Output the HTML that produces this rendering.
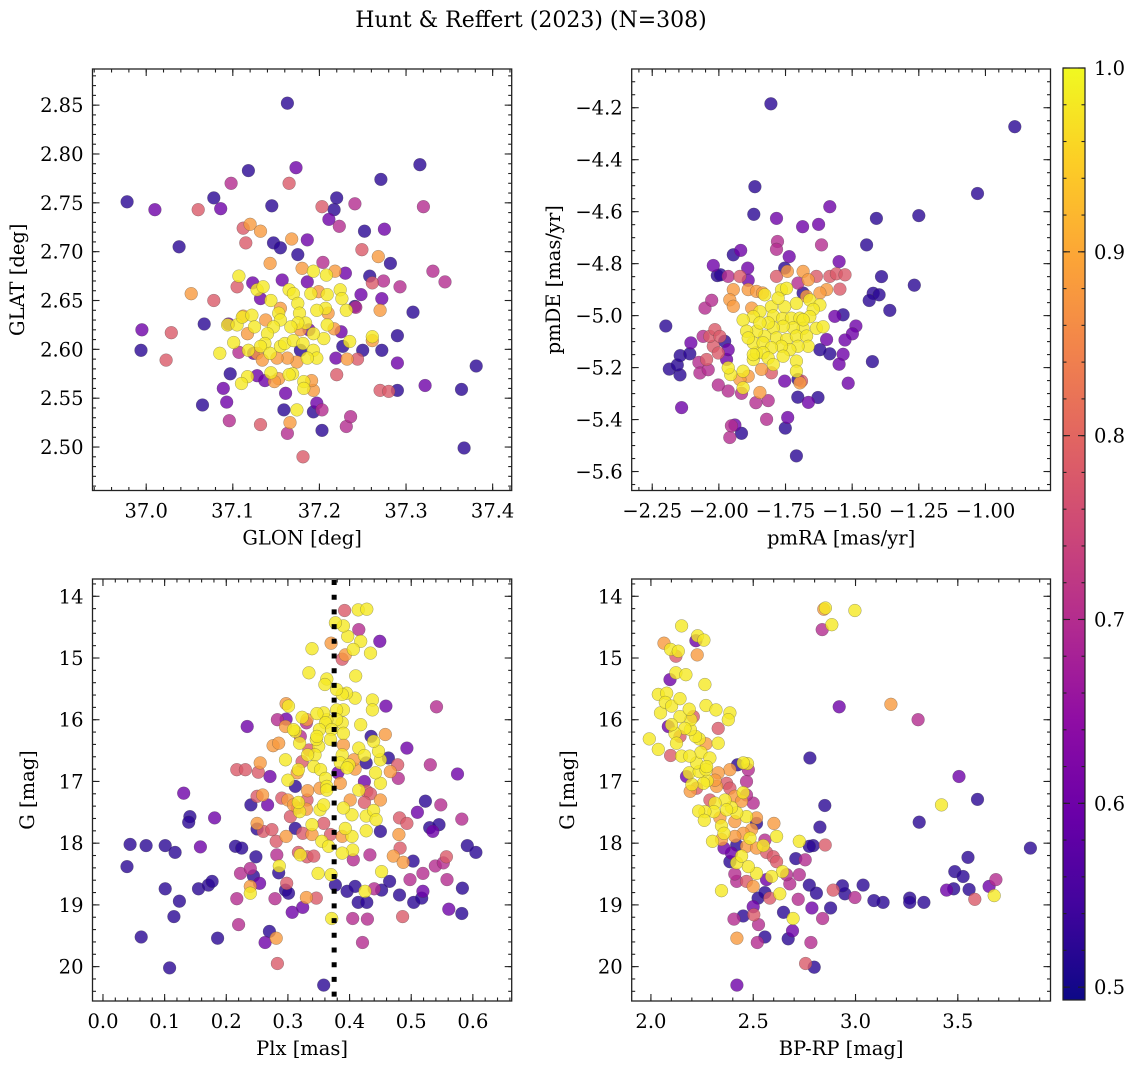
<!DOCTYPE html>
<html><head><meta charset="utf-8">
<style>
html,body{margin:0;padding:0;background:#fff;}
svg{display:block;font-family:"DejaVu Serif","Liberation Serif",serif;}
</style></head>
<body>
<svg id="fig" width="1136" height="1068" viewBox="0 0 1136 1068" xmlns="http://www.w3.org/2000/svg">
<rect width="1136" height="1068" fill="#fff"/>
<text x="531" y="27" font-size="22" text-anchor="middle">Hunt &amp; Reffert (2023) (N=308)</text>
<defs>
<linearGradient id="plasma" x1="0" y1="1" x2="0" y2="0">
<stop offset="0" stop-color="#0d0887"/><stop offset="0.1" stop-color="#41049d"/><stop offset="0.2" stop-color="#6a00a8"/><stop offset="0.3" stop-color="#8f0da4"/><stop offset="0.4" stop-color="#b12a90"/><stop offset="0.5" stop-color="#cc4778"/><stop offset="0.6" stop-color="#e16462"/><stop offset="0.7" stop-color="#f2844b"/><stop offset="0.8" stop-color="#fca636"/><stop offset="0.9" stop-color="#fcce25"/><stop offset="1" stop-color="#f0f921"/>
</linearGradient>
</defs>
</svg>
<script>
// ---------- Panel 1: GLON / GLAT ----------
const p1X=[37.163,36.978,37.010,37.060,37.078,37.086,37.098,37.118,37.173,37.165,37.145,37.203,37.217,37.220,37.211,37.223,37.241,37.271,37.316,37.320,37.252,37.275,37.038,37.112,37.115,37.120,37.132,37.147,37.155,37.186,37.168,37.175,37.249,37.268,37.282,37.331,37.345,37.143,37.204,37.218,37.230,37.258,37.261,37.274,37.293,37.052,37.078,37.107,37.105,37.123,37.157,37.186,37.180,37.193,37.208,37.248,37.272,37.270,37.308,37.242,36.995,36.994,37.029,37.023,37.067,37.290,37.272,37.290,37.381,37.322,37.270,37.280,37.290,37.364,37.367,37.097,37.089,37.093,37.065,37.096,37.132,37.161,37.159,37.163,37.166,37.174,37.181,37.203,37.193,37.197,37.203,37.231,37.236,37.220,37.232,37.244,37.250,37.227,37.219,37.225,37.261,37.261,37.235,37.241,37.193,37.191,37.182,37.182,37.169,37.165,37.153,37.148,37.144,37.128,37.137,37.117,37.110,37.085,37.101,37.107,37.118,37.095,37.094,37.105,37.111,37.122,37.112,37.125,37.128,37.135,37.132,37.144,37.153,37.155,37.165,37.170,37.175,37.177,37.190,37.199,37.209,37.207,37.197,37.210,37.224,37.226,37.231,37.209,37.217,37.205,37.193,37.184,37.175,37.167,37.178,37.155,37.147,37.140,37.137,37.132,37.143,37.155,37.160,37.170,37.181,37.193,37.197,37.186,37.174,37.163,37.151,37.128,37.134,37.178,37.188,37.124,37.117,37.138];
const p1Y=[2.852,2.751,2.743,2.743,2.755,2.744,2.770,2.783,2.786,2.770,2.747,2.746,2.743,2.755,2.733,2.726,2.749,2.774,2.789,2.746,2.721,2.723,2.705,2.724,2.709,2.728,2.721,2.709,2.704,2.712,2.713,2.697,2.702,2.695,2.688,2.680,2.669,2.688,2.689,2.680,2.678,2.675,2.668,2.670,2.664,2.657,2.650,2.675,2.664,2.668,2.671,2.669,2.683,2.680,2.676,2.656,2.652,2.640,2.638,2.643,2.620,2.599,2.617,2.589,2.626,2.614,2.599,2.586,2.583,2.563,2.558,2.557,2.558,2.559,2.499,2.575,2.560,2.546,2.543,2.527,2.523,2.555,2.538,2.514,2.525,2.538,2.490,2.517,2.536,2.545,2.538,2.521,2.531,2.574,2.590,2.590,2.599,2.603,2.591,2.618,2.609,2.613,2.608,2.644,2.558,2.568,2.567,2.560,2.575,2.574,2.570,2.567,2.576,2.573,2.568,2.572,2.565,2.596,2.607,2.597,2.599,2.626,2.625,2.625,2.633,2.635,2.634,2.623,2.661,2.664,2.652,2.650,2.637,2.642,2.661,2.657,2.647,2.637,2.657,2.659,2.656,2.642,2.640,2.637,2.661,2.652,2.640,2.625,2.621,2.611,2.616,2.627,2.627,2.623,2.620,2.630,2.623,2.616,2.606,2.603,2.596,2.603,2.606,2.609,2.606,2.599,2.591,2.591,2.587,2.591,2.591,2.596,2.589,2.599,2.620,2.596,2.616,2.630];
const p1C=[.52,.52,.60,.78,.52,.60,.70,.52,.60,.78,.52,.78,.52,.52,.60,.70,.70,.52,.52,.70,.52,.60,.52,.78,.78,.88,.88,.52,.52,.60,.88,.52,.78,.88,.52,.70,.70,.88,.70,.88,.60,.52,.78,.70,.70,.88,.78,.98,.78,.60,.60,.60,.88,.98,.98,.60,.60,.88,.52,.70,.60,.52,.78,.78,.52,.52,.52,.60,.52,.60,.78,.78,.52,.52,.52,.52,.60,.60,.52,.70,.78,.60,.52,.70,.88,.98,.78,.52,.52,.60,.70,.70,.70,.78,.88,.78,.52,.52,.60,.60,.88,.98,.98,.52,.88,.88,.98,.98,.98,.98,.88,.88,.98,.60,.60,.98,.98,.98,.98,.70,.98,.60,.98,.98,.98,.98,.88,.98,.98,.98,.60,.98,.98,.88,.98,.98,.98,.98,.98,.88,.98,.98,.98,.88,.98,.98,.98,.98,.88,.98,.98,.98,.98,.98,.88,.98,.98,.98,.98,.98,.98,.98,.98,.98,.98,.98,.98,.98,.88,.88,.88,.88,.88,.52,.60,.60,.88,.88];
const p1XTicks=[37.0,37.1,37.2,37.3,37.4];
const p1XLabels=["37.0","37.1","37.2","37.3","37.4"];
const p1YTicks=[2.50,2.55,2.60,2.65,2.70,2.75,2.80,2.85];
const p1YLabels=["2.50","2.55","2.60","2.65","2.70","2.75","2.80","2.85"];

// ---------- Panel 2: pmRA / pmDE ----------
const p2X=[-1.805,-0.89,-1.03,-1.865,-1.869,-1.784,-1.686,-1.626,-1.584,-1.615,-1.409,-1.25,-1.446,-1.78,-1.784,-1.736,-1.549,-1.39,-1.267,-1.421,-1.399,-1.436,-1.359,-1.534,-1.486,-1.499,-1.527,-1.534,-1.549,-1.515,-1.424,-1.584,-1.621,-1.628,-1.664,-1.704,-1.709,-1.742,-1.751,-1.821,-1.861,-1.815,-1.846,-1.915,-1.959,-1.953,-1.94,-1.915,-1.965,-2.002,-2.14,-2.199,-2.186,-2.146,-2.156,-2.145,-2.109,-2.105,-2.075,-2.071,-2.04,-2.046,-2.021,-2.034,-2.015,-1.996,-2.059,-2.002,-1.978,-1.971,-1.965,-2.052,-2.027,-2.021,-2.006,-1.994,-1.946,-1.918,-1.965,-1.921,-1.892,-1.89,-1.946,-1.959,-1.946,-1.89,-1.859,-1.836,-1.877,-1.784,-1.743,-1.753,-1.684,-1.665,-1.703,-1.634,-1.584,-1.559,-1.527,-1.596,-1.546,-1.621,-1.671,-1.684,-1.565,-1.596,-1.696,-1.69,-1.753,-1.703,-1.803,-1.84,-1.89,-1.921,-1.956,-1.909,-1.965,-1.909,-1.871,-1.859,-1.828,-1.765,-1.746,-1.709,-1.659,-1.621,-1.646,-1.753,-1.803,-1.846,-1.871,-1.909,-1.796,-1.761,-1.728,-1.696,-1.659,-1.634,-1.609,-1.684,-1.721,-1.759,-1.796,-1.828,-1.859,-1.896,-1.871,-1.834,-1.784,-1.746,-1.709,-1.671,-1.665,-1.703,-1.734,-1.765,-1.803,-1.834,-1.815,-1.796,-1.759,-1.709,-1.709,-1.871,-1.89,-1.684,-1.815,-1.846,-1.778];
const p2Y=[-4.185,-4.273,-4.530,-4.504,-4.610,-4.626,-4.658,-4.649,-4.581,-4.728,-4.626,-4.615,-4.728,-4.715,-4.745,-4.773,-4.792,-4.85,-4.883,-4.914,-4.920,-4.942,-4.980,-4.997,-5.040,-5.070,-5.094,-5.149,-5.187,-5.260,-5.177,-5.147,-5.131,-5.315,-5.334,-5.314,-5.540,-5.392,-5.433,-5.399,-5.335,-5.327,-5.296,-5.453,-5.469,-5.424,-5.421,-5.299,-5.290,-5.267,-5.354,-5.040,-5.206,-5.228,-5.190,-5.154,-5.147,-5.105,-5.180,-5.221,-5.208,-5.169,-5.118,-5.080,-5.054,-5.080,-5.080,-5.144,-5.099,-5.169,-5.131,-4.971,-4.941,-4.807,-4.846,-4.843,-4.766,-4.749,-4.849,-4.849,-4.817,-4.864,-4.900,-4.939,-4.964,-4.900,-4.907,-4.913,-4.971,-4.849,-4.830,-4.817,-4.830,-4.862,-4.875,-4.849,-4.849,-4.839,-4.843,-4.900,-4.898,-4.913,-4.926,-4.913,-5.003,-5.092,-5.259,-5.252,-5.252,-5.246,-5.220,-5.207,-5.233,-5.246,-5.227,-5.278,-5.201,-5.214,-5.169,-5.143,-4.920,-4.901,-4.895,-4.953,-4.940,-4.959,-4.976,-4.966,-4.966,-4.985,-5.004,-5.017,-5.001,-5.011,-5.010,-5.010,-5.004,-5.049,-5.043,-5.049,-5.047,-5.041,-5.047,-5.079,-5.060,-5.060,-5.105,-5.105,-5.086,-5.092,-5.079,-5.079,-5.118,-5.118,-5.131,-5.118,-5.124,-5.143,-5.163,-5.188,-5.156,-5.175,-5.214,-5.150,-5.086,-5.016,-5.028,-5.028,-4.933];
const p2C=[.52,.52,.52,.52,.52,.60,.60,.60,.60,.70,
.52,.52,.52,.70,.70,.60,.60,.52,.52,.52,
.52,.52,.52,.52,.60,.60,.60,.60,.60,.60,
.52,.52,.52,.52,.60,.52,.52,.60,.52,.70,
.70,.70,.88,.52,.70,.70,.60,.70,.70,.70,
.60,.52,.52,.52,.52,.52,.52,.60,.70,.70,
.70,.78,.78,.78,.78,.78,.70,.78,.52,.60,
.60,.70,.70,.60,.52,.52,.52,.60,.70,.78,
.60,.60,.88,.88,.88,.88,.88,.88,.88,.78,
.88,.52,.88,.88,.70,.78,.78,.78,.78,.88,
.78,.88,.88,.52,.60,.60,.88,.78,.60,.52,
.78,.88,.88,.88,.98,.98,.98,.98,.98,.98,
.98,.98,.98,.98,.98,.98,.98,.98,.98,.98,
.98,.98,.98,.98,.98,.98,.98,.98,.98,.98,
.98,.98,.98,.98,.98,.98,.98,.98,.98,.98,
.98,.98,.98,.98,.98,.98,.98,.98,.98,.98,
.98,.98,.98,.98,.98,.98,.98,.98,.98];
const p2XTicks=[-2.25,-2.00,-1.75,-1.50,-1.25,-1.00];
const p2XLabels=["\u22122.25","\u22122.00","\u22121.75","\u22121.50","\u22121.25","\u22121.00"];
const p2YTicks=[-5.6,-5.4,-5.2,-5.0,-4.8,-4.6,-4.4,-4.2];
const p2YLabels=["\u22125.6","\u22125.4","\u22125.2","\u22125.0","\u22124.8","\u22124.6","\u22124.4","\u22124.2"];

// ---------- Panel 3: Plx / G ----------
const p3X=[0.039,0.044,0.070,0.062,0.101,0.117,0.101,0.115,0.124,0.108,0.131,0.141,0.139,0.158,0.155,0.171,0.177,0.181,0.186,0.215,0.225,0.217,0.231,0.234,0.223,0.217,0.220,0.239,0.244,0.254,0.239,0.239,0.240,0.250,0.248,0.250,0.259,0.267,0.271,0.252,0.255,0.250,0.260,0.274,0.281,0.282,0.285,0.286,0.270,0.281,0.263,0.283,0.279,0.298,0.296,0.301,0.307,0.324,0.330,0.346,0.276,0.285,0.283,0.297,0.296,0.297,0.301,0.296,0.300,0.290,0.300,0.309,0.315,0.319,0.317,0.330,0.331,0.332,0.312,0.315,0.317,0.304,0.297,0.312,0.324,0.339,0.339,0.355,0.366,0.369,0.358,0.352,0.358,0.320,0.331,0.342,0.317,0.349,0.370,0.371,0.358,0.377,0.396,0.409,0.414,0.428,0.405,0.429,0.421,0.440,0.425,0.452,0.465,0.481,0.486,0.504,0.498,0.519,0.517,0.519,0.503,0.561,0.582,0.583,0.591,0.605,0.582,0.575,0.548,0.531,0.541,0.523,0.510,0.530,0.545,0.535,0.539,0.552,0.557,0.558,0.493,0.479,0.478,0.466,0.463,0.481,0.493,0.480,0.482,0.471,0.487,0.450,0.450,0.450,0.442,0.450,0.447,0.439,0.435,0.458,0.459,0.437,0.437,0.449,0.434,0.418,0.414,0.428,0.415,0.397,0.390,0.392,0.377,0.370,0.393,0.388,0.406,0.410,0.409,0.395,0.388,0.379,0.390,0.379,0.388,0.390,0.379,0.363,0.358,0.347,0.361,0.351,0.371,0.363,0.360,0.339,0.334,0.418,0.415,0.390,0.369,0.388,0.385,0.399,0.409,0.424,0.427,0.407,0.424,0.415,0.428,0.434,0.424,0.427,0.439,0.443,0.427,0.404,0.401,0.390,0.404,0.405,0.406,0.433,0.452,0.388,0.388,0.393,0.385,0.381,0.396,0.350,0.346,0.347,0.334,0.344,0.332,0.323,0.342,0.353,0.361,0.363,0.363,0.352,0.319,0.320,0.312,0.309,0.331,0.323,0.330];
const p3Y=[18.38,18.02,18.04,19.52,18.04,18.15,18.74,19.19,18.94,20.02,17.19,17.57,17.66,18.06,18.74,18.68,18.62,17.59,19.54,18.05,18.08,16.81,16.81,16.11,18.49,18.90,19.32,18.41,18.53,18.65,18.70,18.81,17.38,17.77,18.22,17.24,17.22,17.38,16.92,16.85,16.70,17.68,17.81,17.78,17.97,18.19,18.48,18.37,19.43,19.54,19.61,19.95,18.90,18.65,18.76,18.81,19.12,19.04,18.88,18.89,16.42,16.38,16.00,15.99,16.11,15.74,15.78,16.65,16.98,17.27,17.30,17.38,17.43,17.49,17.34,17.45,17.30,17.15,17.08,16.86,16.81,17.57,17.89,17.76,17.84,17.86,17.70,17.97,18.05,17.86,17.68,17.46,17.38,18.19,18.22,18.21,18.15,18.49,18.51,19.22,20.30,18.68,18.78,18.70,18.96,18.96,19.22,19.23,19.61,18.74,18.78,18.76,18.62,18.84,19.19,18.96,18.59,18.78,18.89,18.49,18.29,19.07,19.14,18.73,18.04,18.15,17.61,16.88,17.38,16.73,15.79,17.32,17.50,17.75,17.70,17.81,18.37,18.32,18.22,18.59,16.46,16.95,16.73,16.84,16.62,17.59,17.68,17.86,18.08,18.21,18.31,17.81,17.30,17.03,16.86,16.65,16.51,16.35,16.27,16.24,15.78,15.68,15.84,14.73,14.92,14.73,14.22,14.21,14.54,14.65,14.48,14.23,14.43,14.76,14.95,15.02,14.86,15.29,15.65,15.57,15.59,15.51,15.84,15.84,16.05,16.22,16.00,16.00,15.89,15.90,16.05,16.16,16.16,15.34,15.43,14.85,15.24,16.08,16.46,16.41,16.32,16.57,16.70,16.73,16.80,16.58,16.70,16.65,17.00,17.14,17.16,17.20,17.34,17.56,17.47,17.62,17.80,17.54,17.30,17.43,17.89,18.11,18.27,18.19,18.46,18.16,17.89,17.76,17.03,16.86,16.78,16.43,16.32,16.27,16.49,16.57,16.57,16.68,16.76,16.81,16.95,17.08,17.14,17.11,16.38,16.27,16.19,16.16,16.00,15.96,16.05];
const p3C=[.52,.52,.52,.52,.52,.52,.52,.52,.52,.52,.60,.52,.52,.60,.52,.52,.52,.60,.52,.52,.52,.78,.78,.60,.70,.70,.70,.70,.52,.60,.88,.98,.52,.52,.52,.78,.88,.60,.60,.78,.88,.88,.78,.78,.78,.70,.52,.98,.52,.88,.60,.78,.70,.78,.52,.52,.60,.60,.88,.78,.88,.88,.70,.60,.88,.88,.98,.98,.98,.78,.88,.88,.78,.98,.98,.88,.78,.88,.52,.88,.98,.78,.88,.52,.78,.88,.98,.98,.98,.78,.78,.98,.98,.98,.78,.78,.78,.98,.98,.98,.52,.52,.52,.52,.52,.52,.70,.70,.70,.70,.98,.52,.52,.52,.78,.52,.70,.60,.52,.70,.52,.60,.52,.52,.52,.52,.70,.60,.70,.70,.70,.52,.60,.52,.52,.60,.70,.70,.78,.70,.60,.70,.78,.88,.52,.78,.78,.88,.78,.88,.88,.52,.88,.98,.98,.98,.98,.98,.52,.88,.60,.98,.98,.60,.98,.98,.98,.98,.70,.98,.98,.78,.98,.88,.88,.78,.98,.98,.98,.98,.98,.98,.98,.98,.98,.98,.98,.98,.98,.98,.98,.98,.98,.98,.98,.98,.98,.98,.98,.88,.98,.98,.98,.98,.88,.98,.52,.88,.60,.98,.78,.78,.78,.98,.98,.98,.98,.98,.88,.98,.98,.98,.70,.70,.98,.98,.88,.98,.88,.60,.98,.98,.98,.98,.78,.98,.98,.78,.98,.98,.98,.98,.98,.88,.98,.70,.98,.98,.88,.98,.70,.98];
const p3XTicks=[0.0,0.1,0.2,0.3,0.4,0.5,0.6];
const p3XLabels=["0.0","0.1","0.2","0.3","0.4","0.5","0.6"];
const gTicks=[14,15,16,17,18,19,20];
const gLabels=["14","15","16","17","18","19","20"];
const plxRef=[0.375];

// ---------- Panel 4: BP-RP / G ----------
const p4X=[2.845,2.853,2.997,2.884,2.837,2.920,3.173,3.306,2.777,3.506,3.596,3.420,3.311,3.855,3.550,3.485,3.526,3.445,3.480,3.555,3.583,3.653,3.686,3.678,3.265,3.265,3.334,3.135,3.090,2.997,3.037,2.948,2.936,2.891,2.878,2.839,2.850,2.826,2.852,2.793,2.774,2.725,2.708,2.754,2.725,2.774,2.809,2.720,2.787,2.782,2.798,2.756,2.692,2.671,2.695,2.648,2.557,2.520,2.526,2.503,2.500,2.524,2.451,2.406,2.420,2.420,2.345,2.581,2.630,2.557,2.679,2.663,2.643,2.590,2.565,2.500,2.467,2.419,2.410,2.516,2.476,2.419,2.443,2.386,2.394,2.357,2.419,2.484,2.467,2.516,2.549,2.565,2.598,2.614,2.557,2.614,2.601,2.516,2.516,2.500,2.467,2.467,2.476,2.472,2.423,2.386,2.329,2.370,2.386,2.410,2.451,2.443,2.467,2.492,2.451,2.410,2.410,2.419,2.394,2.362,2.370,2.345,2.357,2.313,2.308,2.337,2.288,2.264,2.233,2.261,2.301,2.345,2.321,2.313,2.275,2.257,2.223,2.200,2.192,2.174,2.187,2.236,2.223,2.269,2.244,2.269,2.236,2.218,2.193,2.195,2.207,2.142,2.166,2.117,2.101,2.085,2.125,2.142,2.096,2.150,2.190,2.288,2.272,1.992,2.036,2.047,2.036,2.077,2.070,2.101,2.093,2.122,2.142,2.187,2.171,2.264,2.269,2.318,2.386,2.378,2.329,2.329,2.451,2.064,2.096,2.134,2.122,2.150,2.228,2.220,2.259,2.226];
const p4Y=[14.21,14.19,14.23,14.46,14.54,15.79,15.75,16.00,16.62,16.92,17.29,17.38,17.66,18.08,18.23,18.46,18.54,18.76,18.74,18.75,18.91,18.70,18.59,18.85,18.89,18.96,18.96,18.96,18.93,18.88,18.68,18.82,18.69,18.76,19.05,19.22,17.39,17.74,18.03,18.04,18.05,17.97,18.25,18.27,18.51,18.68,18.81,18.91,19.05,19.61,20.01,19.95,19.42,19.55,19.22,19.12,19.52,19.61,19.32,19.16,19.03,18.89,19.18,19.23,19.54,20.30,18.77,18.89,18.82,18.80,18.66,18.51,18.46,18.54,18.59,18.70,18.62,18.62,18.50,18.49,18.38,18.32,18.21,18.30,18.16,18.08,18.03,17.92,18.05,18.08,18.04,18.15,18.22,18.30,17.95,17.89,17.68,17.68,17.59,17.35,17.22,17.00,16.81,16.71,16.73,16.81,16.86,17.03,17.11,17.24,17.18,17.32,17.57,17.78,17.84,17.89,17.65,17.51,17.42,17.30,17.46,17.72,17.84,17.35,17.49,17.59,17.30,17.49,17.48,17.63,17.97,17.94,17.08,16.98,16.99,17.03,17.11,17.05,17.16,16.92,16.86,16.84,16.70,16.81,16.53,16.39,16.31,16.27,16.16,16.00,15.95,15.95,16.14,16.22,16.08,16.11,16.38,16.27,16.58,16.59,16.59,16.62,16.76,16.31,16.48,15.89,15.59,15.57,15.72,15.78,15.35,15.24,15.66,15.83,15.27,15.43,15.77,15.84,15.89,16.00,16.14,16.38,16.70,14.76,14.86,14.89,14.97,14.48,14.64,14.72,14.71,14.95];
const p4C=[.88,.98,.98,.98,.70,.60,.88,.70,.52,.60,.52,.98,.52,.52,.52,.52,.52,.60,.52,.52,.78,.60,.70,.98,.52,.52,.52,.52,.52,.70,.52,.52,.52,.78,.52,.70,.52,.52,.78,.52,.52,.98,.52,.70,.70,.52,.52,.70,.60,.70,.52,.78,.60,.52,.98,.52,.52,.70,.70,.78,.60,.52,.52,.70,.88,.60,.98,.78,.98,.52,.70,.70,.98,.98,.60,.88,.78,.70,.70,.98,.98,.98,.98,.52,.60,.60,.52,.98,.88,.88,.98,.78,.78,.78,.70,.98,.88,.52,.88,.70,.70,.70,.70,.98,.52,.88,.88,.78,.78,.88,.98,.88,.98,.88,.88,.88,.88,.98,.98,.98,.98,.98,.98,.98,.98,.88,.78,.98,.98,.98,.98,.88,.88,.88,.98,.98,.78,.98,.88,.60,.98,.98,.98,.98,.98,.88,.98,.98,.98,.98,.78,.98,.98,.98,.98,.60,.98,.78,.78,.98,.98,.98,.98,.98,.98,.98,.98,.98,.98,.98,.60,.98,.98,.98,.98,.98,.98,.98,.98,.98,.78,.98,.98,.88,.98,.98,.78,.98,.98,.60,.98,.88];
const p4XTicks=[2.0,2.5,3.0,3.5];
const p4XLabels=["2.0","2.5","3.0","3.5"];

// ---------- Colorbar ----------
const cbTicks=[0.5,0.6,0.7,0.8,0.9,1.0];
const cbLabels=["0.5","0.6","0.7","0.8","0.9","1.0"];
const VMIN=0.493, VMAX=1.0;

const NS="http://www.w3.org/2000/svg";
const svg=document.getElementById('fig');
const FS=19.5;
function mk(tag,attrs,parent){const e=document.createElementNS(NS,tag);for(const k in attrs)e.setAttribute(k,attrs[k]);(parent||svg).appendChild(e);return e;}
const stops=[[13,8,135],[65,4,157],[106,0,168],[143,13,164],[177,42,144],[204,71,120],[225,100,98],[242,132,75],[252,166,54],[252,206,37],[240,249,33]];
function plasma(v){if(!isFinite(v))v=VMAX;let t=(v-VMIN)/(VMAX-VMIN);t=Math.max(0,Math.min(1,t))*10;const i=Math.min(9,Math.floor(t));const f=t-i;const a=stops[i],b=stops[i+1];return 'rgb('+[0,1,2].map(k=>Math.round(a[k]+(b[k]-a[k])*f)).join(',')+')';}

function panel(cfg){
  const {name,L,R,T,B,xmin,xmax,ymin,ymax,invert,xs,ys,cs,xT,xL,yT,yL,xMinor,yMinor,xlabel,ylabel,ylabX}=cfg;
  const sx=v=>L+(v-xmin)/(xmax-xmin)*(R-L);
  const sy=invert?(v=>T+(v-ymin)/(ymax-ymin)*(B-T)):(v=>B-(v-ymin)/(ymax-ymin)*(B-T));
  const g=mk('g',{});
  
  
  const clipId='clip-'+name;
  const cp=mk('clipPath',{id:clipId},g);mk('rect',{x:L,y:T,width:R-L,height:B-T},cp);
  const pts=mk('g',{'clip-path':'url(#'+clipId+')'},g);
  
  
  const n=Math.min(xs.length,ys.length);
  const col=i=>(i<cs.length?cs[i]:VMAX);
  const idx=[];for(let i=0;i<n;i++)idx.push(i);
  idx.sort((a,b)=>col(a)-col(b));
  idx.forEach(i=>{
    const c=mk('circle',{cx:sx(xs[i]).toFixed(1),cy:sy(ys[i]).toFixed(1),r:6.4,fill:plasma(col(i)),'fill-opacity':0.8,stroke:'#444','stroke-width':0.5,'stroke-opacity':0.5},pts);
    
    
  });
  if(cfg.vline){cfg.vline.forEach(v=>{const l=mk('line',{x1:sx(v),x2:sx(v),y1:T+1,y2:B,stroke:'#000','stroke-width':5,'stroke-dasharray':'5 9.7'},g);
    
    });}
  const fr=mk('rect',{x:L,y:T,width:R-L,height:B-T,fill:'none',stroke:'#222','stroke-width':1.3},g);
  
  
  const tk=mk('g',{stroke:'#222','stroke-width':1.1},g);
  const mx0=Math.ceil(xmin/xMinor-1e-6),mx1=Math.floor(xmax/xMinor+1e-6);
  for(let k=mx0;k<=mx1;k++){const x=sx(k*xMinor);mk('line',{x1:x,x2:x,y1:B,y2:B-3.5},tk);mk('line',{x1:x,x2:x,y1:T,y2:T+3.5},tk);}
  const lo=Math.min(ymin,ymax),hi=Math.max(ymin,ymax);
  const my0=Math.ceil(lo/yMinor-1e-6),my1=Math.floor(hi/yMinor+1e-6);
  for(let k=my0;k<=my1;k++){const y=sy(k*yMinor);mk('line',{x1:L,x2:L+3.5,y1:y,y2:y},tk);mk('line',{x1:R,x2:R-3.5,y1:y,y2:y},tk);}
  xT.forEach((v,i)=>{const x=sx(v);mk('line',{x1:x,x2:x,y1:B,y2:B-7},tk);mk('line',{x1:x,x2:x,y1:T,y2:T+7},tk);
    const t=mk('text',{x:x,y:B+27,'font-size':FS,'text-anchor':'middle'},g);t.textContent=xL[i];
    
    });
  yT.forEach((v,i)=>{const y=sy(v);mk('line',{x1:L,x2:L+7,y1:y,y2:y},tk);mk('line',{x1:R,x2:R-7,y1:y,y2:y},tk);
    const t=mk('text',{x:L-9,y:y+7,'font-size':FS,'text-anchor':'end'},g);t.textContent=yL[i];
    
    });
  const xl=mk('text',{x:(L+R)/2,y:B+54,'font-size':FS,'text-anchor':'middle'},g);xl.textContent=xlabel;
  
  
  const cy=(T+B)/2;
  const yl=mk('text',{x:ylabX,y:cy,'font-size':FS,'text-anchor':'middle',transform:'rotate(-90 '+ylabX+' '+cy+')'},g);yl.textContent=ylabel;
  
  
}

panel({name:'glon-glat',L:92.5,R:511.7,T:69,B:490.5,xmin:36.938,xmax:37.422,ymin:2.4555,ymax:2.887,invert:false,xs:p1X,ys:p1Y,cs:p1C,xT:p1XTicks,xL:p1XLabels,yT:p1YTicks,yL:p1YLabels,xMinor:0.02,yMinor:0.01,xlabel:'GLON [deg]',ylabel:'GLAT [deg]',ylabX:24});
panel({name:'pm',L:631.7,R:1050.5,T:69,B:490.5,xmin:-2.327,xmax:-0.756,ymin:-5.673,ymax:-4.051,invert:false,xs:p2X,ys:p2Y,cs:p2C,xT:p2XTicks,xL:p2XLabels,yT:p2YTicks,yL:p2YLabels,xMinor:0.05,yMinor:0.05,xlabel:'pmRA [mas/yr]',ylabel:'pmDE [mas/yr]',ylabX:560});
panel({name:'plx-g',L:92.5,R:511.7,T:579,B:1001,xmin:-0.017,xmax:0.663,ymin:13.72,ymax:20.557,invert:true,xs:p3X,ys:p3Y,cs:p3C,xT:p3XTicks,xL:p3XLabels,yT:gTicks,yL:gLabels,xMinor:0.02,yMinor:0.2,xlabel:'Plx [mas]',ylabel:'G [mag]',ylabX:34,vline:plxRef});
panel({name:'cmd',L:631.7,R:1050.5,T:579,B:1001,xmin:1.906,xmax:3.953,ymin:13.72,ymax:20.557,invert:true,xs:p4X,ys:p4Y,cs:p4C,xT:p4XTicks,xL:p4XLabels,yT:gTicks,yL:gLabels,xMinor:0.1,yMinor:0.2,xlabel:'BP-RP [mag]',ylabel:'G [mag]',ylabX:574});

// colorbar
(function(){
  const L=1063,R=1085,T=68,B=1000;
  const g=mk('g',{});
  
  
  const r=mk('rect',{x:L,y:T,width:R-L,height:B-T,fill:'url(#plasma)',stroke:'#222','stroke-width':1.2},g);
  
  
  const sc=v=>B-(v-VMIN)/(VMAX-VMIN)*(B-T);
  const tk=mk('g',{stroke:'#222','stroke-width':1.1},g);
  for(let k=25;k<=50;k++){const v=k*0.02;if(v<VMIN||v>VMAX+1e-9)continue;const y=sc(v);mk('line',{x1:R,x2:R-3.5,y1:y,y2:y},tk);mk('line',{x1:L,x2:L+3.5,y1:y,y2:y},tk);}
  cbTicks.forEach((v,i)=>{const y=sc(v);mk('line',{x1:R,x2:R-7,y1:y,y2:y},tk);mk('line',{x1:L,x2:L+7,y1:y,y2:y},tk);
    const t=mk('text',{x:R+9,y:y+7,'font-size':FS},g);t.textContent=cbLabels[i];
    
    });
})();
</script>
</body></html>
